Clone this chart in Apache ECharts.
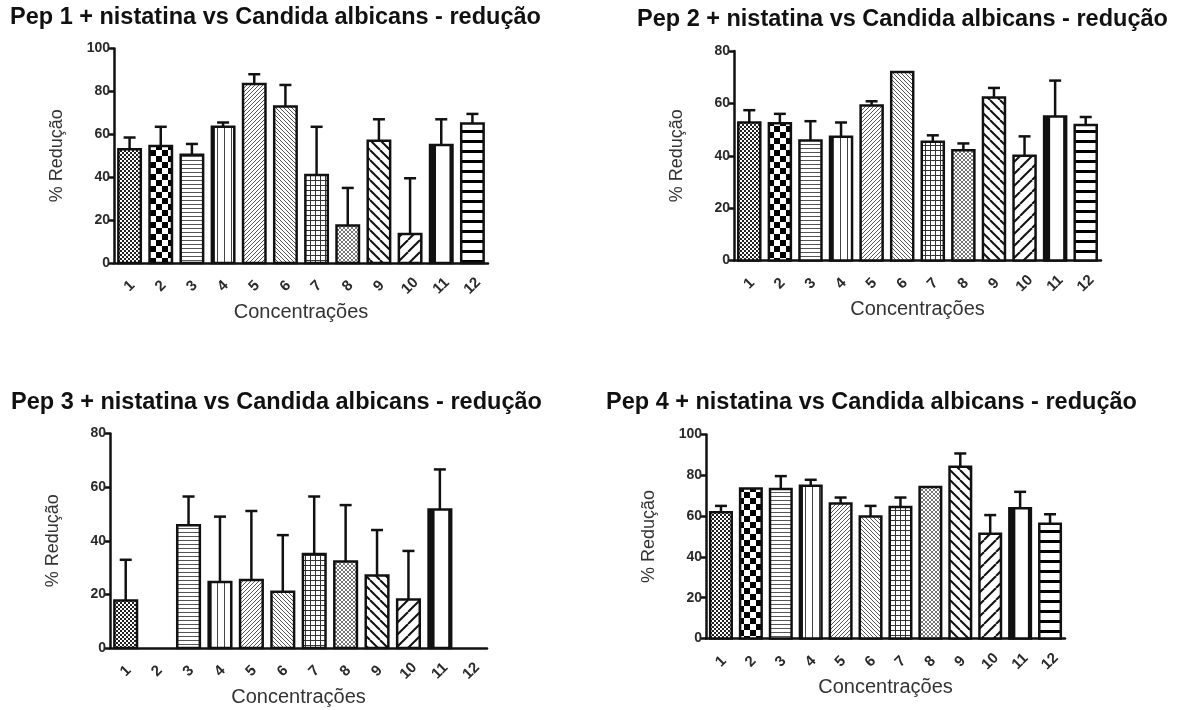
<!DOCTYPE html>
<html>
<head>
<meta charset="utf-8">
<style>
  html, body { margin: 0; padding: 0; background: #fff; }
  #chart { width: 1183px; height: 710px; }
</style>
<script src="https://cdn.jsdelivr.net/npm/echarts@6/dist/echarts.min.js"></script>
</head>
<body>
<div id="chart"></div>
<script>
// Concentration levels on the x axis
const concentracoes = ['1', '2', '3', '4', '5', '6', '7', '8', '9', '10', '11', '12'];

// Mean % reduction and upper error (SEM) for each peptide + nystatin combination
const pep1Media = [53, 54.5, 50.5, 63.5, 83.5, 73, 41, 17.5, 57, 13.5, 55, 65];
const pep1Erro  = [5.5, 9, 5, 2, 4.5, 10, 22.5, 17.5, 10, 26, 12, 4.5];

const pep2Media = [52.7, 52.4, 45.8, 47.3, 59.2, 72, 45.3, 42.1, 62.2, 40, 55, 51.7];
const pep2Erro  = [4.7, 3.6, 7.4, 5.4, 1.6, 0, 2.5, 2.6, 3.7, 7.4, 13.7, 3.1];

const pep3Media = [17.7, null, 45.8, 24.6, 25.4, 21, 35.1, 32.3, 27, 18.1, 51.7, null];
const pep3Erro  = [15.2, null, 10.7, 24.4, 25.7, 21.1, 21.4, 21, 17, 18.1, 14.9, null];

const pep4Media = [61.9, 73.5, 73.3, 74.9, 66.2, 59.8, 64.5, 74.3, 84.2, 51.3, 63.8, 56.3];
const pep4Erro  = [3.1, 0, 6.3, 2.9, 2.9, 5.2, 4.6, 0, 6.5, 9.2, 8.1, 4.6];

const titulos = [
  'Pep 1 + nistatina vs Candida albicans - redução',
  'Pep 2 + nistatina vs Candida albicans - redução',
  'Pep 3 + nistatina vs Candida albicans - redução',
  'Pep 4 + nistatina vs Candida albicans - redução'
];
const yMax = [100, 80, 80, 100];

// ---- hatch fill tiles, one per concentration ----
function tile(w, h, draw) {
  const c = document.createElement('canvas');
  c.width = w; c.height = h;
  const g = c.getContext('2d');
  g.fillStyle = '#fff';
  g.fillRect(0, 0, w, h);
  draw(g, w, h);
  return c;
}
function diag(g, s, up, color, lw) {
  g.strokeStyle = color; g.lineWidth = lw;
  for (const k of [-s, 0, s]) {
    g.beginPath();
    if (up) { g.moveTo(k, s); g.lineTo(k + s, 0); }
    else { g.moveTo(k, 0); g.lineTo(k + s, s); }
    g.stroke();
  }
}
const tiles = [
  tile(4, 4, (g) => { g.fillStyle = '#222'; g.fillRect(0, 0, 4, 4); g.fillStyle = '#fff'; g.fillRect(0, 0, 2, 2); g.fillRect(2, 2, 2, 2); }),
  tile(12, 12, (g) => { g.fillStyle = '#000'; g.fillRect(0, 0, 6, 6); g.fillRect(6, 6, 6, 6); }),
  tile(4, 4, (g) => { g.fillStyle = '#555'; g.fillRect(0, 0, 4, 1); }),
  tile(7, 4, (g) => { g.fillStyle = '#444'; g.fillRect(0, 0, 1, 4); }),
  tile(4, 4, (g) => diag(g, 4, true, '#555', 1)),
  tile(4, 4, (g) => diag(g, 4, false, '#555', 1)),
  tile(5, 5, (g) => { g.fillStyle = '#333'; g.fillRect(0, 0, 5, 1); g.fillRect(0, 0, 1, 5); }),
  tile(4, 4, (g) => { diag(g, 4, true, '#777', 1); diag(g, 4, false, '#777', 1); }),
  tile(10, 10, (g) => diag(g, 10, false, '#111', 2)),
  tile(12, 12, (g) => diag(g, 12, true, '#111', 2)),
  tile(4, 4, () => {}),
  tile(4, 10, (g) => { g.fillStyle = '#000'; g.fillRect(0, 0, 4, 3); })
];

const FONT = 'Liberation Sans, Arial, sans-serif';

// plot areas: left, top, width, height
const grids = [
  { left: 114, top: 48.5, width: 374, height: 214.5 },
  { left: 734, top: 51, width: 367, height: 209.5 },
  { left: 110, top: 433.5, width: 377, height: 214.5 },
  { left: 706, top: 434.5, width: 359, height: 204 }
];
const titlePos = [
  { left: 10, top: 6 },
  { left: 637, top: 8 },
  { left: 11, top: 391 },
  { left: 606, top: 391 }
];
const medias = [pep1Media, pep2Media, pep3Media, pep4Media];
const erros = [pep1Erro, pep2Erro, pep3Erro, pep4Erro];

function barItem(params, api) {
  const i = api.value(0), v = api.value(1);
  if (v == null || isNaN(v)) return null;
  const base = api.coord([i, 0]);
  const top = api.coord([i, v]);
  const bw = api.size([1, 0])[0] * 0.72;
  const x = base[0] - bw / 2;
  const h = base[1] - top[1];
  const children = [{
    type: 'rect',
    shape: { x: x, y: top[1], width: bw, height: h },
    style: { fill: { image: tiles[i], repeat: 'repeat' }, stroke: '#111', lineWidth: 2.5 }
  }];
  if (i === 3) {
    children.push({ type: 'rect', shape: { x: x, y: top[1], width: 3, height: h }, style: { fill: '#111' } });
  }
  if (i === 10) {
    children.push({ type: 'rect', shape: { x: x, y: top[1], width: 6, height: h }, style: { fill: '#111' } });
    children.push({ type: 'rect', shape: { x: x + bw - 3, y: top[1], width: 3, height: h }, style: { fill: '#111' } });
  }
  return { type: 'group', children: children };
}

function errItem(params, api) {
  const i = api.value(0), v = api.value(1), e = api.value(2);
  if (v == null || isNaN(v) || !(e > 0)) return null;
  const a = api.coord([i, v]);
  const b = api.coord([i, v + e]);
  const cap = 6;
  return {
    type: 'group',
    children: [
      { type: 'line', shape: { x1: a[0], y1: a[1], x2: b[0], y2: b[1] }, style: { stroke: '#111', lineWidth: 2.5 } },
      { type: 'line', shape: { x1: b[0] - cap, y1: b[1], x2: b[0] + cap, y2: b[1] }, style: { stroke: '#111', lineWidth: 2.5 } }
    ]
  };
}

const option = {
  backgroundColor: '#fff',
  animation: false,
  title: titulos.map((t, k) => ({
    text: t,
    left: titlePos[k].left,
    top: titlePos[k].top,
    padding: 0,
    textStyle: { fontFamily: FONT, fontSize: 23.5, fontWeight: 'bold', color: '#111' }
  })),
  grid: grids.map(g => Object.assign({ containLabel: false }, g)),
  xAxis: grids.map((g, k) => ({
    type: 'category',
    gridIndex: k,
    data: concentracoes,
    name: 'Concentrações',
    nameLocation: 'middle',
    nameGap: 49,
    nameTextStyle: { fontFamily: FONT, fontSize: 20, color: '#333', verticalAlign: 'middle' },
    axisLine: { lineStyle: { color: '#111', width: 2.5 } },
    axisTick: { alignWithLabel: true, length: 6, lineStyle: { color: '#111', width: 2.5 } },
    axisLabel: {
      rotate: 45, margin: 23, align: 'center', verticalAlign: 'middle',
      fontFamily: FONT, fontSize: 15, fontWeight: 'bold', color: '#2a2a2a', interval: 0
    },
    splitLine: { show: false }
  })),
  yAxis: grids.map((g, k) => ({
    type: 'value',
    gridIndex: k,
    min: 0,
    max: yMax[k],
    interval: 20,
    name: '% Redução',
    nameLocation: 'middle',
    nameGap: 57,
    nameRotate: 90,
    nameTextStyle: { fontFamily: FONT, fontSize: 18, color: '#333', verticalAlign: 'middle' },
    axisLine: { show: true, lineStyle: { color: '#111', width: 2.5 } },
    axisTick: { show: true, length: 5, lineStyle: { color: '#111', width: 2.5 } },
    axisLabel: { fontFamily: FONT, fontSize: 14, fontWeight: 'bold', color: '#2a2a2a', margin: 4 },
    splitLine: { show: false }
  })),
  series: []
};

medias.forEach((m, k) => {
  option.series.push({
    type: 'custom',
    xAxisIndex: k, yAxisIndex: k,
    renderItem: barItem,
    data: m.map((v, i) => [i, v == null ? NaN : v]),
    encode: { x: 0, y: 1 },
    z: 2
  });
  option.series.push({
    type: 'custom',
    xAxisIndex: k, yAxisIndex: k,
    renderItem: errItem,
    data: m.map((v, i) => [i, v == null ? NaN : v, erros[k][i] == null ? 0 : erros[k][i]]),
    encode: { x: 0, y: 1 },
    z: 3
  });
});

const chart = echarts.init(document.getElementById('chart'));
chart.setOption(option);
</script>
</body>
</html>
